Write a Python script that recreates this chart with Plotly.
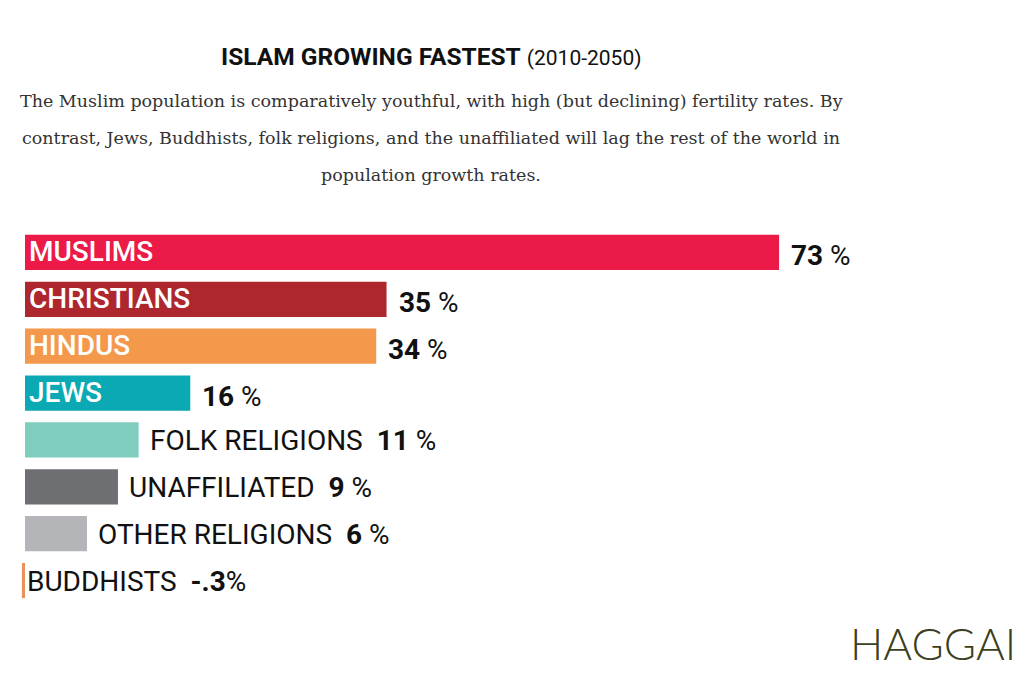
import plotly.graph_objects as go

categories = ["MUSLIMS", "CHRISTIANS", "HINDUS", "JEWS", "FOLK RELIGIONS",
              "UNAFFILIATED", "OTHER RELIGIONS", "BUDDHISTS"]
growth = [73, 35, 34, 16, 11, 9, 6, -0.3]
value_labels = ["73", "35", "34", "16", "11", "9", "6", "-.3"]
label_inside = [True, True, True, True, False, False, False, False]
colors = ["#EC1A47", "#AE272F", "#F4984B", "#0AA9B4", "#7FCDBD",
          "#6E6F73", "#B4B5B9", "#E8925E"]

W, H = 1024, 690
L, R, T, B = 10, 10, 229, 86
PX_PER = 10.33
x0_px = 25
xmin = -(x0_px - L) / PX_PER
xmax = xmin + (W - L - R) / PX_PER
PW, PH = W - L - R, H - T - B

fig = go.Figure(go.Bar(
    x=growth, y=categories, orientation="h",
    marker=dict(color=colors, line=dict(width=0)),
    width=0.75, hoverinfo="skip",
))

LABEL_FONT = "Roboto, 'DejaVu Sans', sans-serif"
ann = []
for cat, v, lab, inside in zip(categories, growth, value_labels, label_inside):
    pct = "%" if lab.startswith("-") else " %"
    if inside:
        ann.append(dict(x=0, y=cat, xref="x", yref="y", text=cat,
                        xanchor="left", yanchor="middle", xshift=2, yshift=1,
                        showarrow=False,
                        font=dict(family=LABEL_FONT, size=28, color="white", weight=500)))
        ann.append(dict(x=v, y=cat, xref="x", yref="y",
                        text=f"<b>{lab}</b>{pct}",
                        xanchor="left", yanchor="middle", xshift=10, yshift=-3,
                        showarrow=False,
                        font=dict(family=LABEL_FONT, size=28, color="#111")))
    else:
        shift = 9 if v > 0 else 0
        ann.append(dict(x=max(v, 0), y=cat, xref="x", yref="y",
                        text=f"{cat}  <b>{lab}</b>{pct}",
                        xanchor="left", yanchor="middle", xshift=shift, yshift=-1,
                        showarrow=False,
                        font=dict(family=LABEL_FONT, size=28, color="#111")))

cx = (431 - L) / PW


def py(ypx):
    return 1 + (T - ypx) / PH


ann.append(dict(x=cx, y=py(57), xref="paper", yref="paper", showarrow=False,
                xanchor="center", yanchor="middle",
                text="<b>ISLAM GROWING FASTEST</b> <span style='font-size:21px'>(2010-2050)</span>",
                font=dict(family=LABEL_FONT, size=24.5, color="#111")))
sub_lines = [
    "The Muslim population is comparatively youthful, with high (but declining) fertility rates. By",
    "contrast, Jews, Buddhists, folk religions, and the unaffiliated will lag the rest of the world in",
    "population growth rates.",
]
for line, ypx in zip(sub_lines, [101, 138, 175]):
    ann.append(dict(x=cx, y=py(ypx), xref="paper", yref="paper",
                    showarrow=False, xanchor="center", yanchor="middle", text=line,
                    font=dict(family="'DejaVu Serif', serif", size=17.5, color="#333")))
ann.append(dict(x=(1018 - L) / PW, y=py(643),
                xref="paper", yref="paper", showarrow=False,
                xanchor="right", yanchor="middle", text="HAGGAI",
                font=dict(family="Lato, 'Open Sans', sans-serif", size=44,
                          color="#3B4020", weight=300)))

fig.update_layout(
    width=W, height=H,
    margin=dict(l=L, r=R, t=T, b=B, autoexpand=False),
    paper_bgcolor="white", plot_bgcolor="white",
    showlegend=False,
    xaxis=dict(range=[xmin, xmax], visible=False, fixedrange=True),
    yaxis=dict(range=[7.5, -0.5], visible=False, fixedrange=True),
    annotations=ann,
)

fig.write_html("out.html", config={"displayModeBar": False},
               post_script="document.body.style.margin='0px';")
